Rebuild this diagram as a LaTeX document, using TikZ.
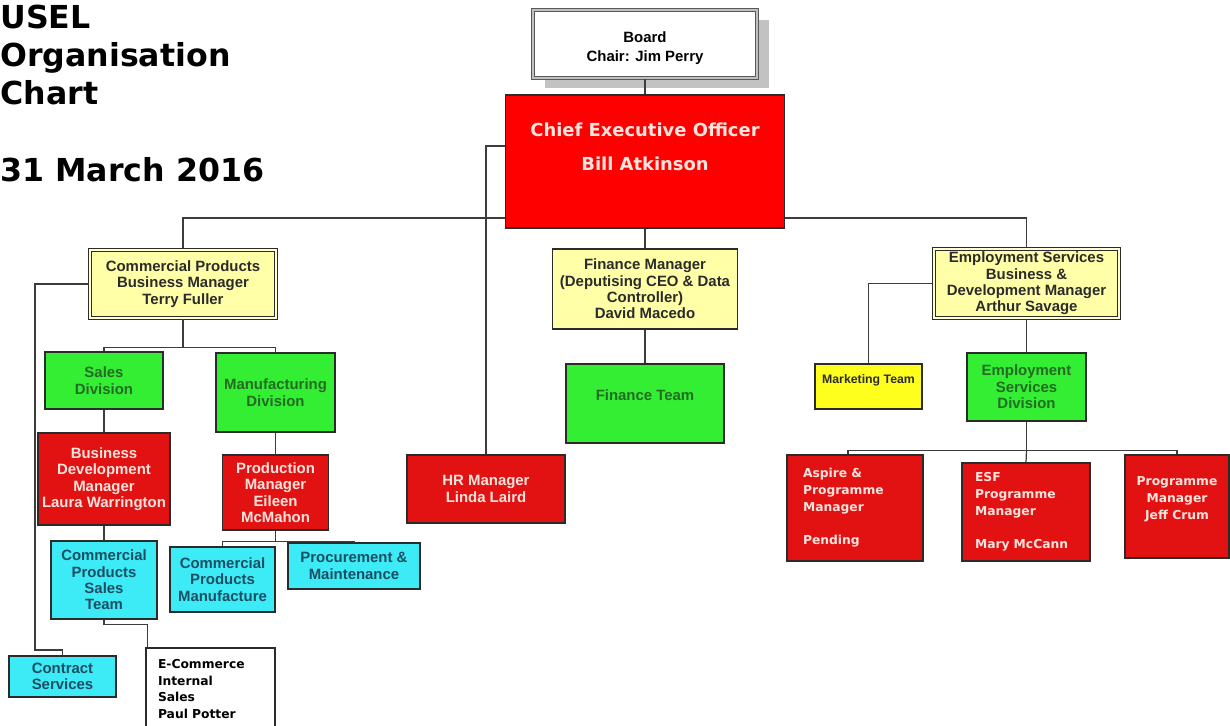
\documentclass[tikz,border=0pt]{standalone}
\usepackage{fontspec}
\setmainfont{Liberation Sans}
\newfontfamily\verdfont{DejaVu Sans}
\usetikzlibrary{calc,backgrounds,shadows}
\definecolor{ink}{HTML}{2B2B2B}
\definecolor{wire}{HTML}{3C3C3C}
\definecolor{ceored}{HTML}{FF0000}
\definecolor{boxred}{HTML}{E31212}
\definecolor{pinktext}{HTML}{FCE4DE}
\definecolor{paleyellow}{HTML}{FFFFA8}
\definecolor{brightyellow}{HTML}{FFFF1E}
\definecolor{limegreen}{HTML}{33EE33}
\definecolor{greentext}{HTML}{246B24}
\definecolor{aqua}{HTML}{3CEBF5}
\definecolor{aquatext}{HTML}{1B4E63}
\definecolor{shadowgray}{HTML}{C2C2C2}
\newcommand\titlefont{\verdfont\fontsize{18}{21.5}\selectfont\bfseries}
\newcommand\ceofont{\verdfont\fontsize{10.2}{12}\selectfont\bfseries}
\newcommand\boxfont{\fontsize{8.5}{9.3}\selectfont\bfseries}
\newcommand\smallboxfont{\fontsize{7}{8.4}\selectfont\bfseries}
\newcommand\verdboxfont{\verdfont\fontsize{7}{9.5}\selectfont\bfseries}

\begin{document}
\begin{tikzpicture}[x=0.02cm,y=-0.02cm,
  boxsize/.style 2 args={minimum width=#1*0.02cm,minimum height=#2*0.02cm},
  orgbox/.style={draw=ink,line width=0.8pt,align=center,inner sep=1pt,font=\boxfont},
  boardbox/.style={orgbox,fill=white,draw=black!65,double=black!25,
    double distance=0.8pt,line width=0.6pt,
    drop shadow={shadow xshift=0.24cm,shadow yshift=-0.2cm,fill=shadowgray,opacity=1}},
  ceobox/.style={orgbox,fill=ceored,text=pinktext,font=\ceofont},
  redbox/.style={orgbox,fill=boxred,text=pinktext},
  mgrbox/.style={orgbox,fill=paleyellow,text=ink},
  headbox/.style={mgrbox,draw=ink,double=paleyellow!50!white,double distance=0.7pt,line width=0.65pt},
  divbox/.style={orgbox,fill=limegreen,text=greentext},
  teambox/.style={orgbox,fill=aqua,text=aquatext},
  notebox/.style={orgbox,fill=white,text=black,align=left,font=\verdboxfont},
  conn/.style={draw=wire,line width=0.7pt}]
  \useasboundingbox (0,0) rectangle (1230,726);

  % title
  \node[anchor=north west,inner sep=0,align=left,font=\titlefont,text=black] (title)
    at (0,5) {USEL\\Organisation\\Chart\\[22.5pt]31 March 2016};

  % top of the chart
  \node[boardbox,boxsize={224}{68}] (board) at (645,44)
    {\mbox{}\\[2pt]Board\\[1.5pt]Chair: Jim Perry};
  \node[ceobox,boxsize={279}{133}] (ceo) at (645,161.5)
    {Chief Executive Officer\\[7pt]Bill Atkinson\\[5pt]\mbox{}};

  % managers
  \node[headbox,boxsize={186}{68}] (cp) at (183,284)
    {Commercial Products\\Business Manager\\Terry Fuller};
  \node[mgrbox,boxsize={185}{80}] (fin) at (645,289)
    {Finance Manager\\(Deputising CEO \& Data\\Controller)\\David Macedo};
  \node[headbox,boxsize={185}{69}] (es) at (1026.5,283.5)
    {Employment Services\\Business \&\\Development Manager\\Arthur Savage};
  \node[redbox,boxsize={158}{68}] (hr) at (486,489) {HR Manager\\Linda Laird};

  % commercial products
  \node[divbox,boxsize={118}{57}] (sales) at (104,380.5) {Sales\\Division};
  \node[divbox,boxsize={119}{79}] (mfg) at (275.5,392.5) {Manufacturing\\Division};
  \node[redbox,boxsize={132}{92}] (bdm) at (104,479)
    {Business\\Development\\Manager\\Laura Warrington};
  \node[teambox,boxsize={106}{78}] (cpst) at (104,580)
    {Commercial\\Products\\Sales\\Team};
  \node[redbox,boxsize={106}{75}] (prod) at (275.5,492.5)
    {Production\\Manager\\Eileen\\McMahon};
  \node[teambox,boxsize={105}{65}] (cpm) at (222.5,579.5)
    {Commercial\\Products\\Manufacture};
  \node[teambox,boxsize={132}{46}] (proc) at (354,566) {Procurement \&\\Maintenance};
  \node[teambox,boxsize={107}{41}] (cs) at (62.5,676.5) {Contract\\Services};
  \node[notebox,boxsize={129}{82},text width=2.1cm] (ecom) at (210.5,689)
    {E-Commerce\\Internal\\Sales\\Paul Potter};

  % finance
  \node[divbox,boxsize={158}{79}] (finteam) at (645,403.5) {Finance Team\\\mbox{}};

  % employment services
  \node[mgrbox,fill=brightyellow,font=\smallboxfont,boxsize={107}{45}] (mkt)
    at (868.5,386.5) {Marketing Team\\\mbox{}};
  \node[divbox,boxsize={119}{68}] (esd) at (1026.5,387)
    {Employment\\Services\\Division};
  \node[redbox,font=\verdboxfont,align=left,text width=2.08cm,boxsize={136}{106}] (asp)
    at (855,508) {Aspire \&\\Programme\\Manager\\[9.5pt]Pending};
  \node[redbox,font=\verdboxfont,align=left,text width=2.04cm,boxsize={128}{98}] (esf)
    at (1026,512) {ESF\\Programme\\Manager\\[9.5pt]Mary McCann};
  \node[redbox,font=\verdboxfont,boxsize={104}{103}] (jeff) at (1177,506.5)
    {Programme\\Manager\\Jeff Crum\\\mbox{}};

  % connectors
  \coordinate (bus) at (645,218);
  \coordinate (csbend) at (35,650);
  \begin{scope}[on background layer]
    \fill[white] (0,0) rectangle (1230,726);
    \draw[conn] (cp.north) |- (bus) -| (es.north);
  \end{scope}
  \draw[conn] (board.south) -- (ceo.north);
  \draw[conn] (ceo.south) -- (fin.north);
  \draw[conn] ($(ceo.west)+(0,-15.5)$) -| (hr.north);
  \draw[conn] (cp.west) -| (csbend) -| (cs.north);
  \draw[conn] (cp.south) -- ++(0,29) coordinate (cpbar);
  \draw[conn] (sales.north) |- (cpbar) -| (mfg.north);
  \draw[conn] (sales.south) -- (bdm.north);
  \draw[conn] (bdm.south) -- (cpst.north);
  \draw[conn] (cpst.south) -- ++(0,5) -| ($(ecom.north west)+(2,0)$);
  \draw[conn] (mfg.south) -- (prod.north);
  \draw[conn] (prod.south) -- ++(0,11) coordinate (prodbar);
  \draw[conn] (cpm.north) |- (prodbar) -| (proc.north);
  \draw[conn] (fin.south) -- (finteam.north);
  \draw[conn] (es.west) -| (mkt.north);
  \draw[conn] (es.south) -- (esd.north);
  \draw[conn] (esd.south) -- ++(0,29) coordinate (esdbar);
  \draw[conn] ($(asp.north)+(-7,0)$) |- (esdbar) -| (jeff.north);
  \draw[conn] (esdbar) -- (esf.north);
\end{tikzpicture}
\end{document}
